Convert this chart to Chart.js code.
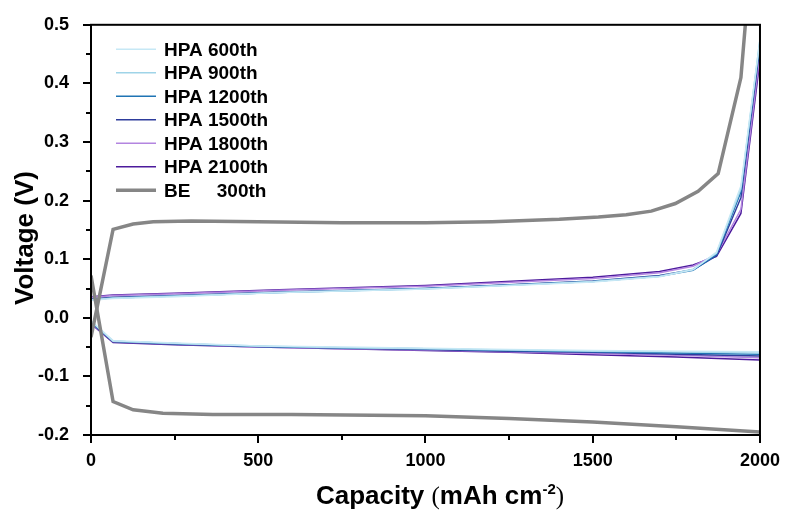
<!DOCTYPE html>
<html>
<head>
<meta charset="utf-8">
<title>Voltage profiles</title>
<script src="https://cdn.jsdelivr.net/npm/chart.js@4.4.1/dist/chart.umd.min.js"></script>
<style>
  html, body { margin: 0; padding: 0; background: #fff; }
  #wrap { width: 787px; height: 510px; position: relative; }
</style>
</head>
<body>
<div id="wrap"><canvas id="voltChart"></canvas></div>
<script>
// capacity points (mAh cm-2) for each branch
const hpaChargeCap = [0, 66, 250, 563, 1000, 1500, 1700, 1800, 1870, 1943, 2000];
const hpaDischargeCap = [0, 66, 250, 500, 750, 1000, 1250, 1500, 1750, 2000];
const beChargeCap = [0, 66, 126, 186, 300, 500, 750, 1000, 1200, 1400, 1517, 1600, 1675, 1747, 1815, 1875, 1943, 1965];
const beDischargeCap = [0, 66, 126, 215, 364, 600, 1000, 1250, 1500, 1750, 2000];

// charge (upper) voltages, V
const hpa600Charge = [0.030, 0.033, 0.036, 0.043, 0.049, 0.061, 0.070, 0.082, 0.112, 0.225, 0.475];
const hpa900Charge = [0.031, 0.034, 0.037, 0.043, 0.049, 0.062, 0.071, 0.083, 0.110, 0.220, 0.475];
const hpa1200Charge = [0.031, 0.034, 0.037, 0.043, 0.050, 0.062, 0.071, 0.081, 0.108, 0.215, 0.470];
const hpa1500Charge = [0.032, 0.035, 0.038, 0.044, 0.050, 0.063, 0.072, 0.082, 0.106, 0.205, 0.465];
const hpa1800Charge = [0.035, 0.038, 0.041, 0.047, 0.054, 0.067, 0.077, 0.088, 0.108, 0.185, 0.450];
const hpa2100Charge = [0.036, 0.039, 0.042, 0.048, 0.055, 0.069, 0.079, 0.090, 0.105, 0.178, 0.440];
const beCharge = [-0.033, 0.151, 0.160, 0.164, 0.165, 0.164, 0.162, 0.162, 0.164, 0.168, 0.172, 0.176, 0.182, 0.195, 0.216, 0.246, 0.410, 0.560];

// discharge (lower) voltages, V
const hpa600Discharge = [-0.005, -0.039, -0.043, -0.048, -0.050, -0.052, -0.054, -0.056, -0.057, -0.058];
const hpa900Discharge = [-0.006, -0.040, -0.044, -0.048, -0.051, -0.053, -0.055, -0.057, -0.058, -0.060];
const hpa1200Discharge = [-0.007, -0.040, -0.044, -0.049, -0.051, -0.053, -0.056, -0.058, -0.060, -0.062];
const hpa1500Discharge = [-0.008, -0.041, -0.045, -0.049, -0.052, -0.054, -0.057, -0.059, -0.062, -0.065];
const hpa1800Discharge = [-0.009, -0.041, -0.045, -0.050, -0.053, -0.055, -0.058, -0.061, -0.064, -0.068];
const hpa2100Discharge = [-0.010, -0.042, -0.046, -0.050, -0.053, -0.056, -0.059, -0.063, -0.067, -0.072];
const beDischarge = [0.072, -0.143, -0.157, -0.163, -0.165, -0.165, -0.167, -0.172, -0.178, -0.186, -0.195];

const seriesLabels = ['HPA 600th', 'HPA 900th', 'HPA 1200th', 'HPA 1500th', 'HPA 1800th', 'HPA 2100th', 'BE     300th'];
const seriesColors = ['#c6e8f5', '#9fd4e8', '#1f74b4', '#2e3d9c', '#b385e0', '#4c1b9c', '#868686'];
const seriesWidths = [1.5, 1.5, 1.5, 1.5, 1.5, 1.5, 3.5];

const chargeSets = [hpa600Charge, hpa900Charge, hpa1200Charge, hpa1500Charge, hpa1800Charge, hpa2100Charge, beCharge];
const dischargeSets = [hpa600Discharge, hpa900Discharge, hpa1200Discharge, hpa1500Discharge, hpa1800Discharge, hpa2100Discharge, beDischarge];

const FONT = 'Arial, "Liberation Sans", Helvetica, sans-serif';

function pts(xs, ys) {
    return xs.map((x, i) => ({ x: x, y: ys[i] }));
}

const datasets = [];
seriesLabels.forEach((label, i) => {
    const isBE = i === seriesLabels.length - 1;
    const base = {
        label: label,
        borderColor: seriesColors[i],
        backgroundColor: seriesColors[i],
        borderWidth: seriesWidths[i],
        pointRadius: 0,
        tension: 0,
        fill: false,
        order: isBE ? 0 : 1
    };
    datasets.push(Object.assign({}, base, { data: pts(isBE ? beDischargeCap : hpaDischargeCap, dischargeSets[i]) }));
    datasets.push(Object.assign({}, base, { data: pts(isBE ? beChargeCap : hpaChargeCap, chargeSets[i]) }));
});

// box frame, outward ticks, axis titles and the legend
const decorations = {
    id: 'decorations',
    afterDraw(chart) {
        const ctx = chart.ctx;
        const a = chart.chartArea;
        const xs = chart.scales.x, ys = chart.scales.y;
        ctx.save();
        ctx.strokeStyle = '#000';
        ctx.lineWidth = 2;
        ctx.strokeRect(a.left, a.top, a.right - a.left, a.bottom - a.top);

        ctx.beginPath();
        for (let v = 0; v <= 2000; v += 250) {
            const px = Math.round(xs.getPixelForValue(v));
            const len = v % 500 === 0 ? 8 : 5;
            ctx.moveTo(px, a.bottom);
            ctx.lineTo(px, a.bottom + len);
        }
        for (let k = -4; k <= 10; k++) {
            const py = Math.round(ys.getPixelForValue(k * 0.05));
            const len = k % 2 === 0 ? 8 : 5;
            ctx.moveTo(a.left, py);
            ctx.lineTo(a.left - len, py);
        }
        ctx.stroke();

        // y title
        ctx.fillStyle = '#000';
        ctx.save();
        ctx.translate(26, 238);
        ctx.rotate(-Math.PI / 2);
        ctx.font = 'bold 26px ' + FONT;
        ctx.textAlign = 'center';
        ctx.textBaseline = 'middle';
        ctx.fillText('Voltage (V)', 0, 0);
        ctx.restore();

        // x title with superscript unit
        const parts = [
            { t: 'Capacity ', f: 'bold 26px ' + FONT, dy: 0 },
            { t: '(', f: '25px "Liberation Serif", serif', dy: 0 },
            { t: 'mAh cm', f: 'bold 26px ' + FONT, dy: 0 },
            { t: '-2', f: 'bold 15px ' + FONT, dy: -10 },
            { t: ')', f: '25px "Liberation Serif", serif', dy: 0 }
        ];
        let total = 0;
        parts.forEach((p) => { ctx.font = p.f; p.w = ctx.measureText(p.t).width; total += p.w; });
        let x = 440 - total / 2;
        ctx.textAlign = 'left';
        ctx.textBaseline = 'alphabetic';
        parts.forEach((p) => {
            ctx.font = p.f;
            ctx.fillText(p.t, x, 504 + p.dy);
            x += p.w;
        });

        // legend
        ctx.font = 'bold 19px ' + FONT;
        ctx.textBaseline = 'middle';
        seriesLabels.forEach((label, i) => {
            const y = a.top + 24.5 + i * 23.5;
            ctx.beginPath();
            ctx.strokeStyle = seriesColors[i];
            ctx.lineWidth = seriesWidths[i];
            ctx.moveTo(a.left + 25, y);
            ctx.lineTo(a.left + 65, y);
            ctx.stroke();
            ctx.fillStyle = '#000';
            ctx.fillText(label, a.left + 73, y + 1);
        });
        ctx.restore();
    }
};

const ctx = document.getElementById('voltChart');
const chart = new Chart(ctx, {
    type: 'line',
    data: { datasets: datasets },
    options: {
        responsive: true,
        maintainAspectRatio: false,
        animation: false,
        devicePixelRatio: 1,
        layout: { padding: { top: 23, right: 15, left: 0, bottom: 0 } },
        plugins: {
            legend: { display: false },
            tooltip: { enabled: false }
        },
        scales: {
            x: {
                type: 'linear',
                min: 0,
                max: 2000,
                grid: { display: false },
                border: { display: false },
                ticks: {
                    stepSize: 250,
                    padding: 7,
                    color: '#000',
                    font: { family: FONT, size: 18, weight: 'bold' },
                    maxRotation: 0,
                    autoSkip: false,
                    callback: (v) => (v % 500 === 0 ? String(v) : '')
                },
                afterFit: (scale) => { scale.height = 75; }
            },
            y: {
                type: 'linear',
                min: -0.2,
                max: 0.5,
                grid: { display: false },
                border: { display: false },
                ticks: {
                    stepSize: 0.05,
                    padding: 14,
                    color: '#000',
                    font: { family: FONT, size: 18, weight: 'bold' },
                    autoSkip: false,
                    callback: (v) => {
                        const t = v * 10;
                        if (Math.abs(t - Math.round(t)) > 1e-6) return '';
                        return Math.abs(v) < 1e-9 ? '0.0' : v.toFixed(1);
                    }
                },
                afterFit: (scale) => { scale.width = 91; }
            }
        }
    },
    plugins: [decorations]
});
</script>
</body>
</html>
